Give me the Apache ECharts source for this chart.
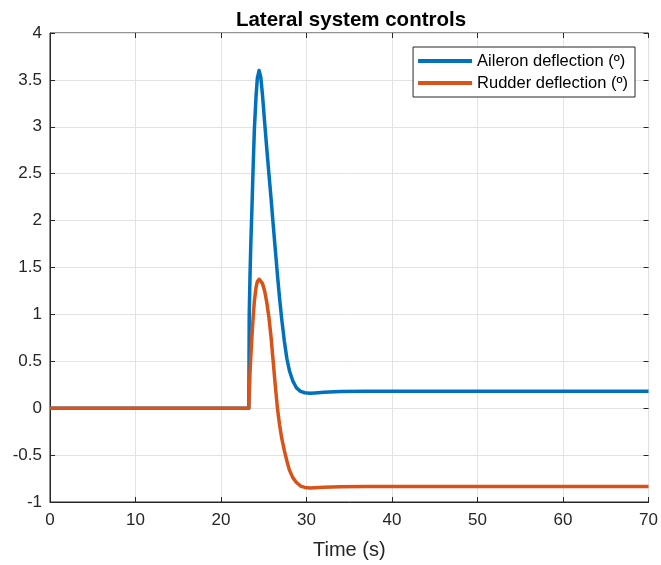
<!DOCTYPE html>
<html>
<head>
<meta charset="utf-8">
<script src="https://cdn.jsdelivr.net/npm/echarts@6/dist/echarts.min.js"></script>
<style>
  html, body { margin: 0; padding: 0; background: #fff; }
  #chart { width: 661px; height: 565px; }
</style>
</head>
<body>
<div id="chart"></div>
<script>
// time samples (s), denser around the manoeuvre
const time = [0, 23.25, 23.3, 23.4, 23.5, 23.6, 23.75, 23.9, 24.1, 24.25, 24.45, 24.65, 24.85, 25.1, 25.35, 25.6, 25.85, 26.1, 26.35, 26.6, 26.85, 27.1, 27.4, 27.7, 28.0, 28.4, 28.8, 29.3, 29.8, 30.4, 31, 32, 34, 37, 45, 55, 70];
const aileron = [0, 0, 1.0, 1.45, 1.8, 2.08, 2.55, 2.97, 3.33, 3.52, 3.6, 3.53, 3.34, 3.05, 2.77, 2.5, 2.24, 1.96, 1.69, 1.42, 1.17, 0.95, 0.72, 0.53, 0.4, 0.29, 0.22, 0.18, 0.165, 0.16, 0.163, 0.17, 0.178, 0.18, 0.182, 0.182, 0.182];
const rudder = [0, 0, 0.15, 0.4, 0.58, 0.74, 0.96, 1.14, 1.29, 1.35, 1.375, 1.365, 1.33, 1.25, 1.13, 0.97, 0.76, 0.5, 0.24, 0.0, -0.18, -0.32, -0.45, -0.56, -0.66, -0.74, -0.79, -0.83, -0.845, -0.85, -0.848, -0.843, -0.838, -0.835, -0.835, -0.835, -0.835];
const seriesNames = ['Aileron deflection (º)', 'Rudder deflection (º)'];

const chart = echarts.init(document.getElementById('chart'));
const font = 'Arial, "Liberation Sans", sans-serif';
const axisColor = '#262626';

const pairs = (ys) => time.map((t, i) => [t, ys[i]]);

// hidden twin axes only give the MATLAB-style ticks on top and right
const boxAxis = {
  axisLine: { show: false, onZero: false },
  axisTick: { show: true, inside: true, length: 5, lineStyle: { color: axisColor } },
  axisLabel: { show: false },
  splitLine: { show: false }
};

const option = {
  animation: false,
  title: {
    text: 'Lateral system controls',
    left: 346,
    textAlign: 'center',
    top: 5,
    textStyle: { fontFamily: font, fontSize: 20.5, fontWeight: 'bold', color: '#000' }
  },
  legend: {
    right: 26,
    top: 47,
    orient: 'vertical',
    backgroundColor: '#fff',
    borderColor: axisColor,
    borderWidth: 1,
    borderRadius: 0,
    padding: [4, 7, 4, 5],
    itemGap: 2,
    itemWidth: 54,
    itemHeight: 4,
    icon: 'rect',
    textStyle: { fontFamily: font, fontSize: 16.5, lineHeight: 20, color: '#000' },
    data: seriesNames
  },
  grid: {
    left: 50,
    right: 11,
    top: 33,
    bottom: 62,
    show: true,
    borderColor: axisColor,
    borderWidth: 1
  },
  xAxis: [
    {
      type: 'value',
      min: 0,
      max: 70,
      interval: 10,
      name: 'Time (s)',
      nameLocation: 'middle',
      nameGap: 38,
      nameTextStyle: { fontFamily: font, fontSize: 20, color: axisColor },
      axisLine: { show: true, onZero: false, lineStyle: { color: axisColor } },
      axisTick: { inside: true, length: 5, lineStyle: { color: axisColor } },
      axisLabel: { fontFamily: font, fontSize: 17, color: axisColor, margin: 10 },
      splitLine: { show: true, lineStyle: { color: '#e3e3e3' } }
    },
    Object.assign({ type: 'value', position: 'top', min: 0, max: 70, interval: 10 }, boxAxis)
  ],
  yAxis: [
    {
      type: 'value',
      min: -1,
      max: 4,
      interval: 0.5,
      axisLine: { show: true, onZero: false, lineStyle: { color: axisColor } },
      axisTick: { show: true, inside: true, length: 5, lineStyle: { color: axisColor } },
      axisLabel: { fontFamily: font, fontSize: 17, color: axisColor, margin: 8 },
      splitLine: { show: true, lineStyle: { color: '#e3e3e3' } }
    },
    Object.assign({ type: 'value', position: 'right', min: -1, max: 4, interval: 0.5 }, boxAxis)
  ],
  series: [
    {
      name: seriesNames[0],
      type: 'line',
      data: pairs(aileron),
      showSymbol: false,
      color: '#0072BD',
      lineStyle: { width: 3.5, join: 'round' }
    },
    {
      name: seriesNames[1],
      type: 'line',
      data: pairs(rudder),
      showSymbol: false,
      color: '#D95319',
      lineStyle: { width: 3.5, join: 'round' }
    }
  ]
};

chart.setOption(option);
</script>
</body>
</html>
